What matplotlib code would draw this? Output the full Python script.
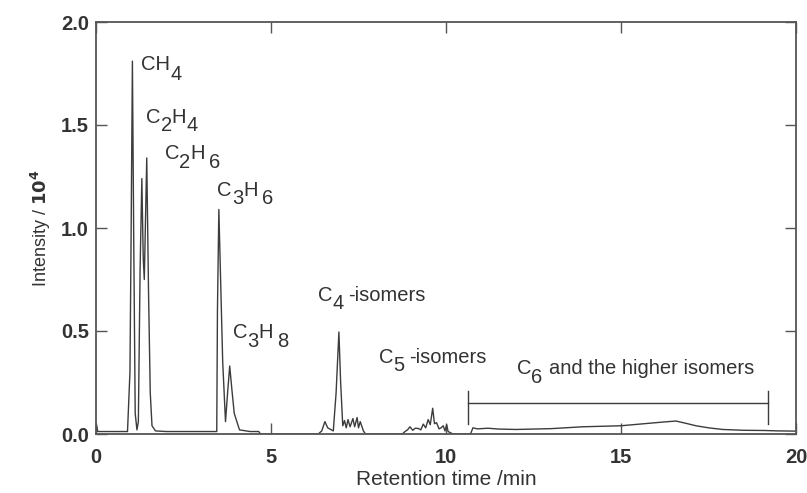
import matplotlib
matplotlib.use("Agg")
import matplotlib.pyplot as plt

# ---------------- data ----------------
time_min = [
    0.0, 0.02, 0.05, 0.9, 0.97, 1.0, 1.04, 1.08, 1.12, 1.17, 1.21, 1.26, 1.31,
    1.35, 1.38, 1.45, 1.5, 1.55, 1.6, 1.7, 2.0, 3.45, 3.47, 3.51, 3.56, 3.62,
    3.70, 3.76, 3.82, 3.88, 3.95, 4.1, 4.4, 4.65, 4.7, 6.35,
    6.45, 6.54, 6.62, 6.78, 6.86, 6.94, 6.99, 7.05, 7.1, 7.15, 7.2, 7.26, 7.34,
    7.39, 7.46, 7.5, 7.55, 7.64, 7.7, 8.75,
    8.83, 8.9, 8.97, 9.05, 9.12, 9.21, 9.28, 9.35, 9.42, 9.49, 9.55, 9.62, 9.67,
    9.73, 9.8, 9.86, 9.92, 9.97, 10.02, 10.06, 10.2, 10.7,
    10.77, 10.9, 11.2, 11.5, 12.0, 12.5, 13.0, 13.9, 15.0, 15.8, 16.2, 16.57,
    16.9, 17.14, 17.5, 17.9, 18.5, 19.1, 19.5, 20.0,
]
intensity_1e4 = [
    0.012, 0.04, 0.012, 0.012, 0.3, 0.9, 1.81, 0.9, 0.1, 0.02, 0.06, 0.8, 1.24,
    0.85, 0.75, 1.34, 0.7, 0.2, 0.04, 0.015, 0.012, 0.012, 0.6, 1.09, 0.75, 0.35,
    0.06, 0.2, 0.33, 0.22, 0.1, 0.02, 0.012, 0.012, 0.0, 0.0,
    0.015, 0.06, 0.03, 0.015, 0.2, 0.495, 0.25, 0.04, 0.065, 0.03, 0.07, 0.035,
    0.075, 0.035, 0.08, 0.03, 0.06, 0.015, 0.0, 0.0,
    0.012, 0.02, 0.035, 0.018, 0.028, 0.027, 0.02, 0.048, 0.03, 0.07, 0.045,
    0.125, 0.05, 0.055, 0.025, 0.03, 0.04, 0.015, 0.045, 0.012, 0.0, 0.0,
    0.03, 0.025, 0.028, 0.024, 0.022, 0.024, 0.026, 0.035, 0.04, 0.052, 0.058,
    0.063, 0.05, 0.04, 0.03, 0.022, 0.018, 0.017, 0.015, 0.014,
]

# peak labels: (start time, baseline intensity, pieces (text, subscript shift pt, x gap pt))
label_time = [1.29, 1.43, 1.97, 3.47, 3.90, 6.35, 8.09, 12.02]
label_level = [1.765, 1.51, 1.333, 1.155, 0.465, 0.647, 0.346, 0.29]
label_pieces = [
    [("CH", 0, 0), ("4", -7, 0)],
    [("C", 0, 0), ("2", -6, 0), ("H", 0, 0), ("4", -6, 0)],
    [("C", 0, 0), ("2", -6, 0), ("H", 0, 0), ("6", -6, 3)],
    [("C", 0, 0), ("3", -6, 0), ("H", 0, 0), ("6", -6, 3)],
    [("C", 0, 0), ("3", -6, 0), ("H", 0, 0), ("8", -6, 3)],
    [("C", 0, 0), ("4", -6, 0), ("-isomers", 0, 3)],
    [("C", 0, 0), ("5", -6, 0), ("-isomers", 0, 3)],
    [("C", 0, 0), ("6", -6, 0), ("and the higher isomers", 0, 5)],
]

# bracket for C6 and higher
bracket_start, bracket_end = 10.62, 19.21
bracket_level, bracket_low, bracket_high = 0.152, 0.05, 0.21

x_ticks = [0, 5, 10, 15, 20]
x_ticklabels = ["0", "5", "10", "15", "20"]
y_ticks = [0.0, 0.5, 1.0, 1.5, 2.0]
y_ticklabels = ["0.0", "0.5", "1.0", "1.5", "2.0"]

# ---------------- figure ----------------
plt.rcParams["font.family"] = ["Liberation Sans", "DejaVu Sans"]
fig = plt.figure(figsize=(8.07, 4.93), dpi=100)
ax = fig.add_axes([96 / 807, 59 / 493, 700 / 807, 412 / 493])

line_col = "#3c3c3c"
spine_col = "#555555"
ax.plot(time_min, intensity_1e4, color=line_col, lw=1.0)

# bracket
ax.plot([bracket_start, bracket_end], [bracket_level, bracket_level], color=line_col, lw=1.0)
ax.plot([bracket_start, bracket_start], [bracket_low, bracket_high], color=line_col, lw=1.0)
ax.plot([bracket_end, bracket_end], [bracket_low, bracket_high], color=line_col, lw=1.0)

FS = 14.5


def chem_label(x, y, pieces):
    prev = None
    prev_dy = 0
    for text, dy, dx in pieces:
        if prev is None:
            prev = ax.text(x, y, text, fontsize=FS, va="baseline", ha="left",
                           color="#333333")
        else:
            prev = ax.annotate(text, xy=(1, 0), xycoords=prev,
                               xytext=(dx, dy - prev_dy), textcoords="offset points",
                               fontsize=FS, va="bottom", ha="left", color="#333333")
        prev_dy = dy


for t, lvl, pcs in zip(label_time, label_level, label_pieces):
    chem_label(t, lvl, pcs)

ax.set_xlim(0, 20)
ax.set_ylim(0, 2.0)
ax.set_xticks(x_ticks)
ax.set_xticklabels(x_ticklabels, fontsize=14.5, fontweight="bold", color="#333333")
ax.set_yticks(y_ticks)
ax.set_yticklabels(y_ticklabels, fontsize=14.5, fontweight="bold", color="#333333")
ax.tick_params(axis="both", direction="in", length=8, width=1.0, color=spine_col,
               top=True, right=True)
ax.tick_params(axis="x", pad=10)
ax.tick_params(axis="y", pad=5)
for s in ax.spines.values():
    s.set_color(spine_col)
    s.set_linewidth(1.3)

ax.set_xlabel("Retention time /min", fontsize=15, color="#333333", labelpad=2)
ax.set_ylabel(r"Intensity / $\mathbf{10^4}$", fontsize=13, color="#333333", labelpad=6)

fig.savefig("out.png", dpi=100, facecolor="white")
